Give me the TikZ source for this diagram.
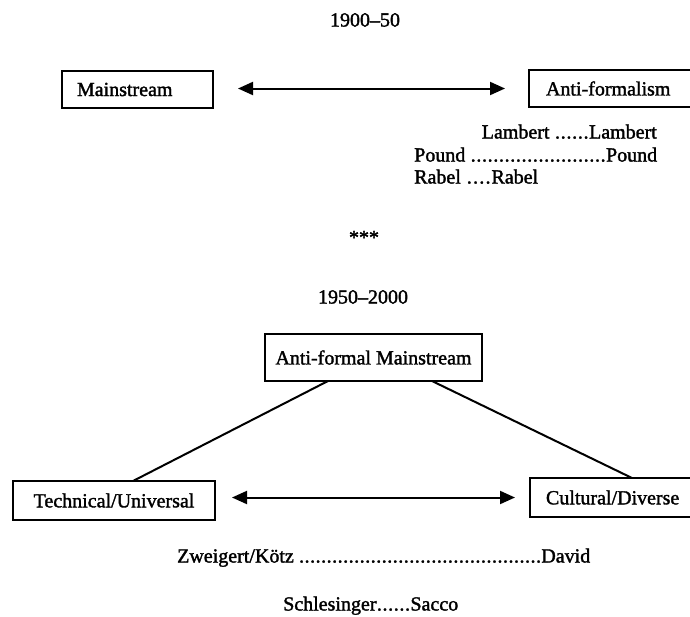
\documentclass[tikz,border=0pt]{standalone}
\usepackage{fontspec}
\setmainfont{Liberation Serif}
\newfontfamily\heavyfont[FakeBold=1.6]{Liberation Serif}
\usetikzlibrary{arrows.meta}
\newcommand{\leaderrow}[3]{\hbox to #1{#2\xleaders\hbox to 5.5pt{\hss.\hss}\hfill #3}}
\tikzset{
  box/.style={draw, line width=1.8pt, anchor=north west, inner ysep=0pt, outer sep=0pt,
              font=\heavyfont\fontsize{20}{24}\selectfont},
  lbl/.style={inner sep=0pt, font=\heavyfont\fontsize{20}{24}\selectfont},
  arr/.style={line width=2pt, {Triangle[length=15pt,width=13pt]}-{Triangle[length=15pt,width=13pt]}},
  link/.style={line width=2pt},
}
\begin{document}
\begin{tikzpicture}[x=1pt,y=-1pt]
\useasboundingbox (0,0) rectangle (690,616);
% ---- 1900-50 ----
\node[lbl, anchor=base] (t1) at (365,26.5) {1900–50};
\node[box, minimum width=151pt, minimum height=37pt, text width=121pt, inner xsep=15pt, align=left] (main) at (62,71) {Mainstream};
\node[box, minimum width=190pt, minimum height=37pt, text width=156pt, inner xsep=15pt, align=left] (anti) at (529,70) {Anti-formalism};
\draw[arr, shorten <=25pt, shorten >=24pt] (main.east |- anti.west) -- (anti.west);
\node[lbl, anchor=base east] (lam) at (657,138.5) {\leaderrow{175pt}{Lambert }{Lambert}};
\node[lbl, anchor=base west] (pou) at (414,161.5) {\leaderrow{243pt}{Pound }{Pound}};
\node[lbl, anchor=base west] (rab) at (414,183.5) {\leaderrow{124pt}{Rabel }{Rabel}};
% ---- separator ----
\node[lbl, anchor=base] (stars) at (364,244) {***};
% ---- 1950-2000 ----
\node[lbl, anchor=base] (t2) at (363,303.5) {1950–2000};
\node[box, minimum width=217pt, minimum height=47pt, inner xsep=8pt, align=center] (afm) at (265,334) {Anti-formal Mainstream};
\node[box, minimum width=202pt, minimum height=39pt, inner xsep=8pt, align=center] (tech) at (13,481) {Technical/Universal};
\node[box, minimum width=190pt, minimum height=39pt, text width=158pt, inner xsep=16pt, align=left] (cult) at (530,478) {Cultural/Diverse};
\draw[link] ([xshift=63pt]afm.south west) -- ([xshift=120pt]tech.north west);
\draw[link] ([xshift=-50pt]afm.south east) -- ([xshift=102pt]cult.north west);
\draw[arr, shorten <=17pt, shorten >=15pt] (tech.east |- cult.west) -- (cult.west);
\node[lbl, anchor=base west] (zk) at (177,562.5) {\leaderrow{413pt}{Zweigert/Kötz }{David}};
\node[lbl, anchor=base west] (ss) at (283,610.5) {\leaderrow{175pt}{Schlesinger}{Sacco}};
\end{tikzpicture}
\end{document}
